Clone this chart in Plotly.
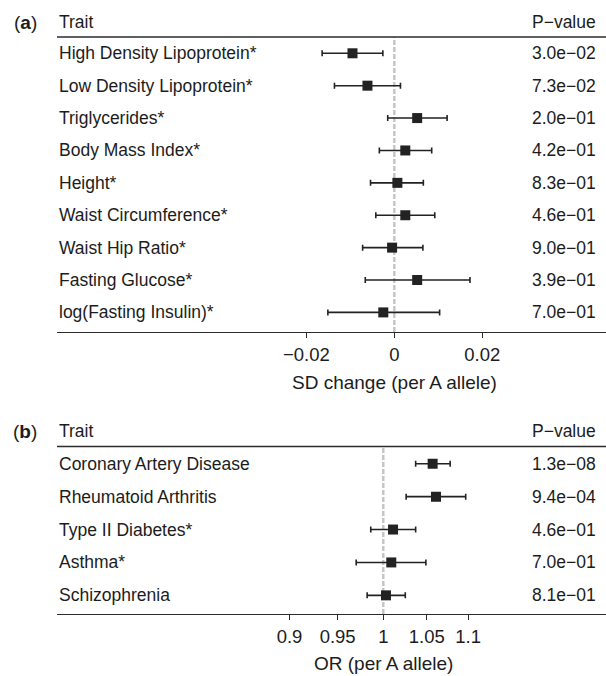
import plotly.graph_objects as go

# ---------------- data ----------------
traits_a = ["High Density Lipoprotein*", "Low Density Lipoprotein*", "Triglycerides*",
            "Body Mass Index*", "Height*", "Waist Circumference*", "Waist Hip Ratio*",
            "Fasting Glucose*", "log(Fasting Insulin)*"]
est_a = [-0.0095, -0.0061, 0.0052, 0.0025, 0.0007, 0.0025, -0.0005, 0.0052, -0.0025]
lo_a = [-0.0164, -0.0136, -0.0015, -0.0034, -0.0054, -0.0042, -0.0072, -0.0066, -0.0151]
hi_a = [-0.0026, 0.0014, 0.0120, 0.0085, 0.0066, 0.0092, 0.0065, 0.0172, 0.0103]
pval_a = ["3.0e\u221202", "7.3e\u221202", "2.0e\u221201", "4.2e\u221201", "8.3e\u221201",
          "4.6e\u221201", "9.0e\u221201", "3.9e\u221201", "7.0e\u221201"]

traits_b = ["Coronary Artery Disease", "Rheumatoid Arthritis", "Type II Diabetes*",
            "Asthma*", "Schizophrenia"]
est_b = [1.057, 1.061, 1.011, 1.009, 1.003]
lo_b = [1.037, 1.026, 0.986, 0.970, 0.982]
hi_b = [1.078, 1.097, 1.037, 1.049, 1.025]
pval_b = ["1.3e\u221208", "9.4e\u221204", "4.6e\u221201", "7.0e\u221201", "8.1e\u221201"]

ticks_a = [-0.02, 0, 0.02]
ticktext_a = ["\u22120.02", "0", "0.02"]
ticks_b = [0.9, 0.95, 1, 1.05, 1.1]
ticktext_b = ["0.9", "0.95", "1", "1.05", "1.1"]

# ---------------- layout helpers ----------------
W, H = 606, 676
FONT = "Liberation Sans, Arial, Helvetica, sans-serif"
TXT = "#1c1c1c"
LINE = "#2b2b2b"
FS = 17.5
FS_TICK = 18.5
FS_TITLE = 19


def py(px):
    return 1 - px / H


def pxx(px):
    return px / W


x_left = 57
a_top, a_bot = 37, 332
b_top, b_bot = 446.5, 614

fig = go.Figure()

ya = list(range(len(traits_a)))
yb = list(range(len(traits_b)))

fig.add_trace(go.Scatter(
    x=est_a, y=ya, mode="markers", xaxis="x", yaxis="y",
    marker=dict(symbol="square", size=10, color="#222222"),
    error_x=dict(type="data", symmetric=False,
                 array=[h - e for h, e in zip(hi_a, est_a)],
                 arrayminus=[e - l for e, l in zip(est_a, lo_a)],
                 color="#222222", thickness=1.6, width=3),
    showlegend=False, hoverinfo="skip"))

fig.add_trace(go.Scatter(
    x=est_b, y=yb, mode="markers", xaxis="x2", yaxis="y2",
    marker=dict(symbol="square", size=10, color="#222222"),
    error_x=dict(type="data", symmetric=False,
                 array=[h - e for h, e in zip(hi_b, est_b)],
                 arrayminus=[e - l for e, l in zip(est_b, lo_b)],
                 color="#222222", thickness=1.6, width=3),
    showlegend=False, hoverinfo="skip"))

axis_common = dict(showgrid=False, zeroline=False, showline=True, linecolor=LINE,
                   linewidth=1.3, ticks="outside", ticklen=5, tickwidth=1.2,
                   tickcolor=LINE, tickfont=dict(family=FONT, size=FS_TICK, color=TXT),
                   fixedrange=True)

fig.update_layout(
    width=W, height=H, margin=dict(l=0, r=0, t=0, b=0),
    paper_bgcolor="white", plot_bgcolor="white",
    xaxis=dict(domain=[pxx(x_left), 1], range=[(x_left - 394.3) / 4400, (606 - 394.3) / 4400],
               tickvals=ticks_a, ticktext=ticktext_a, anchor="y", ticklabelstandoff=1,
               **axis_common),
    yaxis=dict(domain=[py(a_bot), py(a_top)], range=[8.605, -0.503], visible=False,
               fixedrange=True),
    xaxis2=dict(domain=[pxx(x_left), 1], type="log",
                range=[-0.36663 / 2.302585, 0.25022 / 2.302585],
                tickvals=ticks_b, ticktext=ticktext_b, anchor="y2", ticklabelstandoff=1,
                **axis_common),
    yaxis2=dict(domain=[py(b_bot), py(b_top)], range=[4.567, -0.524], visible=False,
                fixedrange=True),
)

# header lines
for yl in (a_top, b_top):
    fig.add_shape(type="line", xref="paper", yref="paper", x0=pxx(x_left), x1=1,
                  y0=py(yl), y1=py(yl), line=dict(color=LINE, width=1.3))

# dashed reference lines
fig.add_shape(type="line", xref="x", yref="paper", x0=0, x1=0, y0=py(a_bot), y1=py(a_top),
              line=dict(color="#c4c4c4", width=2.4, dash="5px,2px"), layer="below")
fig.add_shape(type="line", xref="x2", yref="paper", x0=1, x1=1, y0=py(b_bot), y1=py(b_top),
              line=dict(color="#c4c4c4", width=2.4, dash="5px,2px"), layer="below")

ann = []


def text(x, y, s, anchor="left", size=FS, xref="paper", yref="paper"):
    ann.append(dict(x=x, y=y, xref=xref, yref=yref, text=s, showarrow=False,
                    xanchor=anchor, yanchor="middle",
                    font=dict(family=FONT, size=size, color=TXT)))


# panel a
text(pxx(25), py(22), "(<b>a</b>)", anchor="center", size=19)
text(pxx(x_left), py(22), "Trait")
text(pxx(598), py(22), "P\u2212value", anchor="right")
for i, (t, p) in enumerate(zip(traits_a, pval_a)):
    text(pxx(x_left), i, t, yref="y")
    text(pxx(598), i, p, anchor="right", yref="y")
text(pxx(394.3), py(382), "SD change (per A allele)", anchor="center", size=FS_TITLE)

# panel b
text(pxx(25), py(431), "(<b>b</b>)", anchor="center", size=19)
text(pxx(x_left), py(431), "Trait")
text(pxx(598), py(431), "P\u2212value", anchor="right")
for i, (t, p) in enumerate(zip(traits_b, pval_b)):
    text(pxx(x_left), i, t, yref="y2")
    text(pxx(598), i, p, anchor="right", yref="y2")
text(pxx(383.3), py(663), "OR (per A allele)", anchor="center", size=FS_TITLE)

fig.update_layout(annotations=ann)

fig.write_html("out.html", config={"displayModeBar": False},
               post_script="document.body.style.margin='0px';")
